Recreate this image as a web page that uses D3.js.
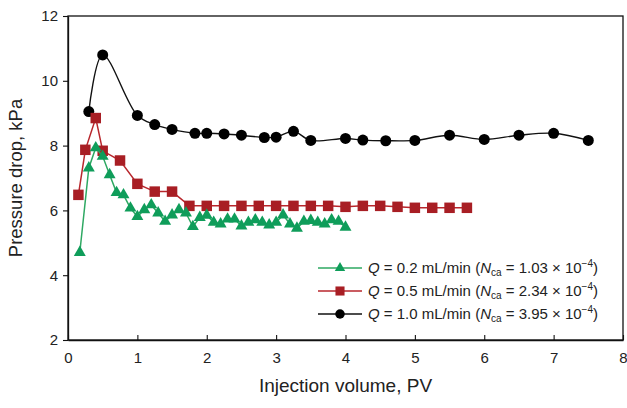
<!DOCTYPE html>
<html>
<head>
<meta charset="utf-8">
<script src="https://cdn.jsdelivr.net/npm/d3@7"></script>
<style>
  body { margin: 0; background: #fff; }
  text { font-family: "Liberation Sans", Arial, sans-serif; fill: #222; }
</style>
</head>
<body>
<div id="chart"></div>
<script>
// Q = 0.2 mL/min
var lowX = [0.17, 0.3, 0.4, 0.5, 0.6, 0.7, 0.8, 0.9, 1.0, 1.1, 1.2, 1.3, 1.4, 1.5, 1.6, 1.7, 1.8, 1.9, 2.0, 2.1,
            2.2, 2.3, 2.4, 2.5, 2.6, 2.7, 2.8, 2.9, 3.0, 3.1, 3.2, 3.3, 3.4, 3.5, 3.6, 3.7, 3.8, 3.9, 4.0];
var lowY = [4.7, 7.31, 7.93, 7.67, 7.1, 6.55, 6.48, 6.07, 5.81, 6.02, 6.17, 5.92, 5.66, 5.86, 6.02, 5.92, 5.5, 5.78, 5.85, 5.63,
            5.58, 5.73, 5.73, 5.52, 5.63, 5.71, 5.63, 5.55, 5.63, 5.86, 5.58, 5.45, 5.66, 5.69, 5.63, 5.58, 5.71, 5.66, 5.48];
// Q = 0.5 mL/min
var midX = [0.15, 0.25, 0.4, 0.5, 0.75, 1.0, 1.25, 1.5, 1.75, 2.0, 2.25, 2.5, 2.75, 3.0, 3.25, 3.5, 3.75, 4.0,
            4.25, 4.5, 4.75, 5.0, 5.25, 5.5, 5.75];
var midY = [6.48, 7.87, 8.85, 7.84, 7.54, 6.82, 6.58, 6.58, 6.14, 6.14, 6.14, 6.14, 6.14, 6.14, 6.14, 6.14, 6.14, 6.11,
            6.14, 6.14, 6.11, 6.08, 6.08, 6.08, 6.08];
// Q = 1.0 mL/min
var highX = [0.3, 0.5, 1.0, 1.25, 1.5, 1.83, 2.0, 2.25, 2.5, 2.83, 3.0, 3.25, 3.5, 4.0, 4.25, 4.58, 5.0, 5.5, 6.0, 6.5, 7.0, 7.5];
var highY = [9.05, 10.8, 8.93, 8.65, 8.5, 8.38, 8.38, 8.36, 8.32, 8.25, 8.26, 8.44, 8.16, 8.22, 8.17, 8.15, 8.16, 8.32, 8.19, 8.32, 8.38, 8.16];

var xTicks = [0, 1, 2, 3, 4, 5, 6, 7, 8];
var yTicks = [2, 4, 6, 8, 10, 12];

var seriesQ = ["0.2", "0.5", "1.0"];
var seriesNca = ["1.03", "2.34", "3.95"];

var margin = { top: 16, right: 4, bottom: 68, left: 68 };
var width = 627 - margin.left - margin.right;
var height = 408 - margin.top - margin.bottom;

var svg = d3.select("#chart")
    .append("svg")
    .attr("width", 627)
    .attr("height", 408)
    .append("g")
    .attr("transform", "translate(" + margin.left + "," + margin.top + ")");

var x = d3.scaleLinear().domain([0, 8]).range([0, width]);
var y = d3.scaleLinear().domain([2, 12]).range([height, 0]);

// frame
svg.append("rect")
    .attr("width", width)
    .attr("height", height)
    .attr("fill", "none")
    .attr("stroke", "#111")
    .attr("stroke-width", 1.3);

// axes
var xAxis = svg.append("g")
    .attr("transform", "translate(0," + height + ")")
    .call(d3.axisBottom(x).tickValues(xTicks).tickSizeInner(-5).tickSizeOuter(0).tickPadding(12));
var yAxis = svg.append("g")
    .call(d3.axisLeft(y).tickValues(yTicks).tickSize(5).tickSizeOuter(0).tickPadding(5));

[xAxis, yAxis].forEach(function (a) {
    a.select(".domain").attr("stroke", "#111").attr("stroke-width", 1.3);
    a.selectAll(".tick line").attr("stroke", "#111").attr("stroke-width", 1.1);
    a.selectAll(".tick text")
        .style("font-family", "'Liberation Sans', Arial, sans-serif")
        .style("font-size", "15px")
        .attr("fill", "#222");
});

// axis titles
svg.append("text")
    .attr("x", width / 2 + 0)
    .attr("y", height + 52)
    .style("text-anchor", "middle")
    .style("font-size", "19px")
    .text("Injection volume, PV");

svg.append("text")
    .attr("transform", "rotate(-90)")
    .attr("x", -height / 2)
    .attr("y", -margin.left + 22)
    .style("text-anchor", "middle")
    .style("font-size", "18.5px")
    .text("Pressure drop, kPa");

function toPoints(xs, ys) {
    return xs.map(function (d, i) { return { x: d, y: ys[i] }; });
}

var series = [
    { name: "high", data: toPoints(highX, highY), line: "#111", fill: "#000", shape: d3.symbolCircle, size: 95, curve: d3.curveCatmullRom.alpha(0.5), lw: 1.4 },
    { name: "mid", data: toPoints(midX, midY), line: "#b8262c", fill: "#a81e24", shape: d3.symbolSquare, size: 110, curve: d3.curveLinear, lw: 1.5 },
    { name: "low", data: toPoints(lowX, lowY), line: "#2ea862", fill: "#0f9d5a", shape: d3.symbolTriangle, size: 62, curve: d3.curveLinear, lw: 1.5 }
];

series.forEach(function (s) {
    var line = d3.line()
        .x(function (d) { return x(d.x); })
        .y(function (d) { return y(d.y); })
        .curve(s.curve);

    svg.append("path")
        .datum(s.data)
        .attr("fill", "none")
        .attr("stroke", s.line)
        .attr("stroke-width", s.lw)
        .attr("d", line);

    svg.selectAll(".pt-" + s.name)
        .data(s.data)
        .enter()
        .append("path")
        .attr("class", "pt-" + s.name)
        .attr("transform", function (d) { return "translate(" + x(d.x) + "," + y(d.y) + ")"; })
        .attr("d", d3.symbol().type(s.shape).size(s.size))
        .attr("fill", s.fill);
});

// legend
var legendOrder = [series[2], series[1], series[0]];
var legend = svg.append("g")
    .attr("transform", "translate(" + (318 - margin.left) + "," + (268 - margin.top) + ")");

legendOrder.forEach(function (s, i) {
    var row = legend.append("g").attr("transform", "translate(0," + (i * 23) + ")");
    row.append("line")
        .attr("x1", 0).attr("x2", 44)
        .attr("stroke", s.line)
        .attr("stroke-width", s.lw);
    row.append("path")
        .attr("transform", "translate(22,0)")
        .attr("d", d3.symbol().type(s.shape).size(s.size * 0.75))
        .attr("fill", s.fill);

    var t = row.append("text")
        .attr("x", 50)
        .attr("dy", "0.35em")
        .style("font-size", "15px");
    t.append("tspan").style("font-style", "italic").text("Q");
    t.append("tspan").text(" = " + seriesQ[i] + " mL/min (");
    t.append("tspan").style("font-style", "italic").text("N");
    t.append("tspan").attr("dy", 3).style("font-size", "10px").text("ca");
    t.append("tspan").attr("dy", -3).text(" = " + seriesNca[i] + " × 10");
    t.append("tspan").attr("dy", -6).style("font-size", "10px").text("−4");
    t.append("tspan").attr("dy", 6).text(")");
});
</script>
</body>
</html>
